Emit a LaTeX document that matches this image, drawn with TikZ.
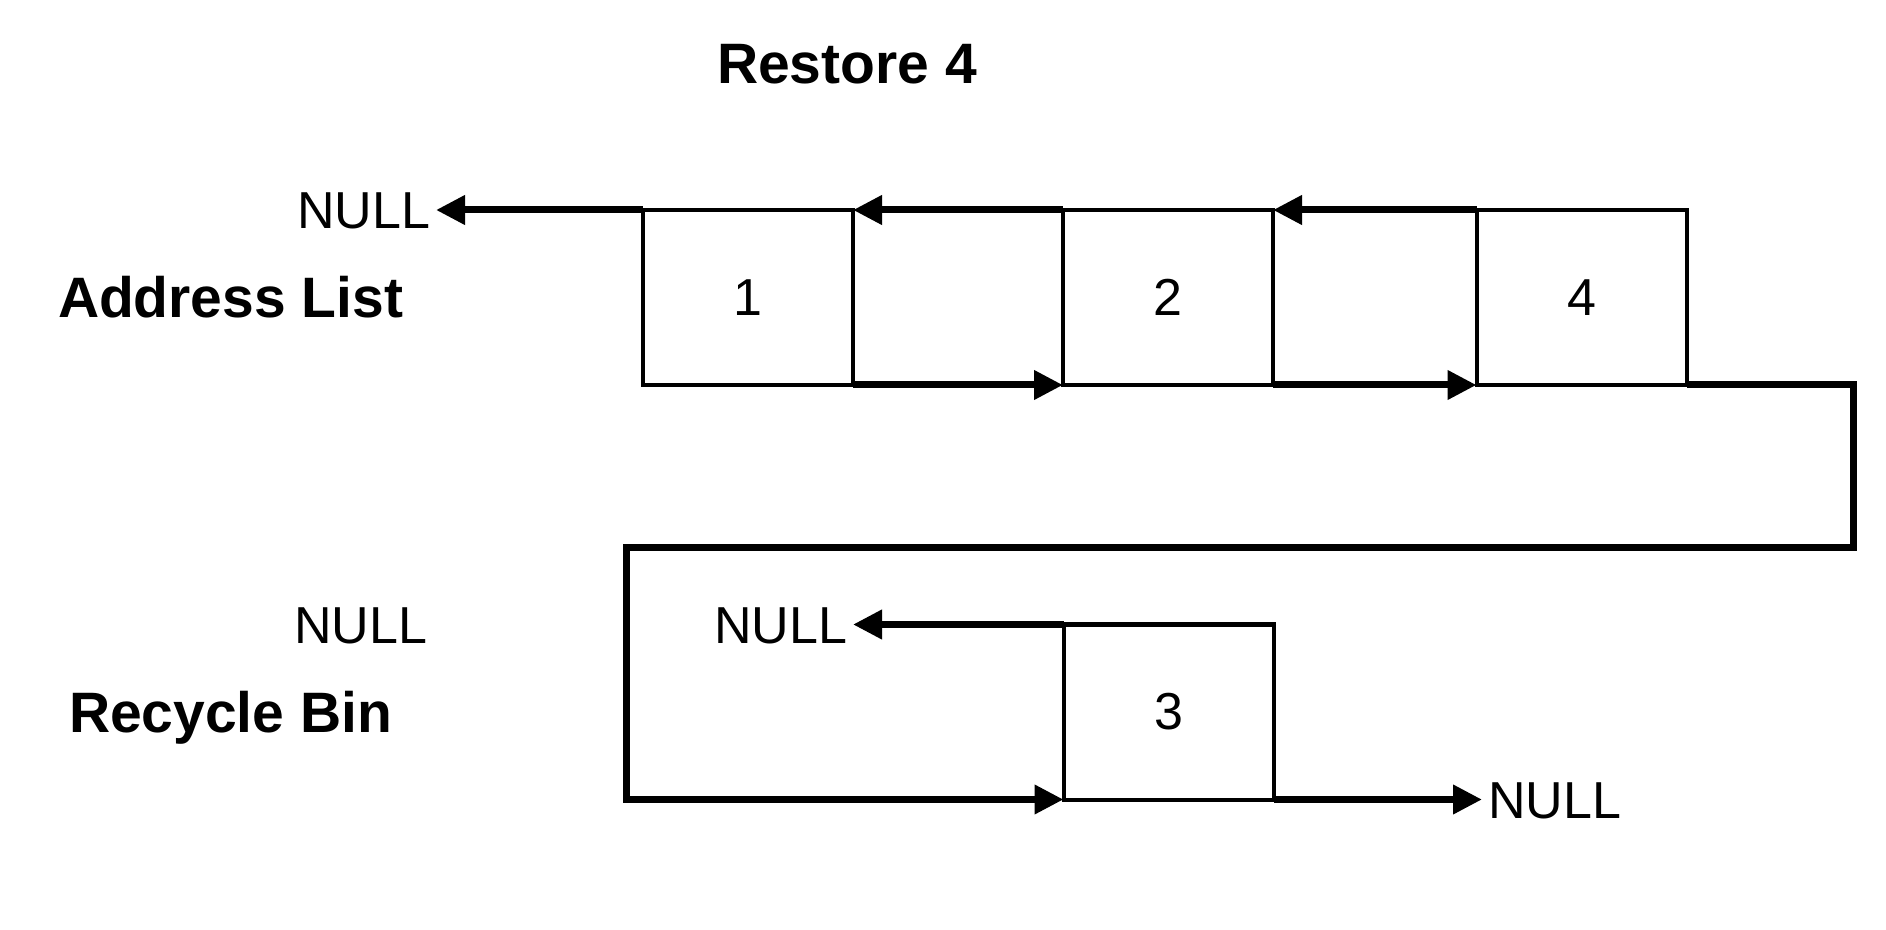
\documentclass[tikz,border=0pt]{standalone}
\usepackage{fontspec}
\setmainfont{Liberation Sans}
\usetikzlibrary{arrows.meta}
\begin{document}
\begin{tikzpicture}[x=0.5pt,y=-0.5pt,
  cell/.style={draw, line width=2pt, minimum width=105pt, minimum height=87.5pt, inner sep=0pt, outer sep=0pt, font=\fontsize{26pt}{31pt}\selectfont},
  nulltxt/.style={inner xsep=3pt, inner ysep=0pt, outer sep=0pt, text height=18.6pt, text depth=0pt, font=\fontsize{26pt}{31pt}\selectfont},
  heading/.style={inner sep=0pt, outer sep=0pt, text height=20.4pt, text depth=0pt, font=\bfseries\fontsize{28.5pt}{34pt}\selectfont},
  link/.style={line width=3.5pt, -{Triangle[length=14.5pt,width=14pt]}}
]
\useasboundingbox (0,0) rectangle (1886,930);

% title and labels
\node[heading] (title) at (847,63.5) {Restore 4};
\node[heading, anchor=west] (addr) at (58,297.5) {Address List};
\node[heading, anchor=west] (recy) at (69,712) {Recycle Bin};

% address list cells
\node[cell] (b1) at (748,297.5) {1};
\node[cell] (b2) at (1168,297.5) {2};
\node[cell] (b4) at (1581.5,297.5) {4};

% recycle bin cell
\node[cell] (b3) at (1168.5,712) {3};

% NULL labels
\node[nulltxt, anchor=east] (n1) at (436,210) {NULL};
\node[nulltxt, anchor=east] (n2) at (433,624.5) {NULL};
\node[nulltxt, anchor=east] (n3) at (853,624.5) {NULL};
\node[nulltxt, anchor=west] (n4) at (1482,799.5) {NULL};

% address list links
\draw[link] (b1.north west) -- (n1.east);
\draw[link] (b2.north west) -- (b1.north east);
\draw[link] (b4.north west) -- (b2.north east);
\draw[link] (b1.south east) -- (b2.south west);
\draw[link] (b2.south east) -- (b4.south west);

% loop from 4 to 3
\coordinate (r1) at (1853,385);
\coordinate (r2) at (1853,548);
\coordinate (l1) at (626,548);
\coordinate (l2) at (626,799.5);
\draw[link] (b4.south east) -- (r1) -- (r2) -- (l1) -- (l2) -- (b3.south west);

% recycle bin links
\draw[link] (b3.north west) -- (n3.east);
\draw[link] (b3.south east) -- (n4.west);
\end{tikzpicture}
\end{document}
